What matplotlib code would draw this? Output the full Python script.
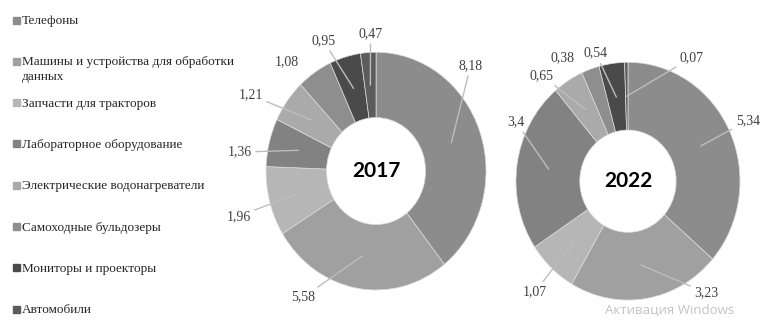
import numpy as np
import matplotlib.pyplot as plt
from matplotlib.patches import Rectangle

# data
categories = ['Телефоны', 'Машины и устройства для обработки\nданных', 'Запчасти для тракторов',
              'Лабораторное оборудование', 'Электрические водонагреватели', 'Самоходные бульдозеры',
              'Мониторы и проекторы', 'Автомобили']
values_2017 = [8.18, 5.58, 1.96, 1.36, 1.21, 1.08, 0.95, 0.47]
values_2022 = [5.34, 3.23, 1.07, 3.4, 0.65, 0.38, 0.54, 0.07]
years = ['2017', '2022']

# style
colors = ['#8c8c8c', '#a0a0a0', '#b6b6b6', '#828282', '#aaaaaa', '#8e8e8e', '#4a4a4a', '#5c5c5c']
label_pos = {
    '2017': [(0.86, 0.89), (-0.66, -1.06), (-1.25, -0.38), (-1.24, 0.16),
             (-1.14, 0.64), (-0.81, 0.92), (-0.48, 1.10), (-0.05, 1.16)],
    '2022': [(1.07, 0.51), (0.70, -0.94), (-0.83, -0.93), (-1.0, 0.50),
             (-0.77, 0.89), (-0.58, 1.04), (-0.29, 1.08), (0.57, 1.04)],
}
no_leader = {'2017': [5], '2022': [5]}
hole = {'2017': 0.45, '2022': 0.43}
ax_rect = {'2017': [0.2976, -0.002, 0.3653, 0.951], '2022': [0.616, -0.033, 0.372, 0.951]}

W, H = 783, 325
fig = plt.figure(figsize=(W / 100, H / 100), dpi=100)

serif = 'Liberation Serif'

for year, vals in zip(years, [values_2017, values_2022]):
    ax = fig.add_axes(ax_rect[year])
    wedges, _ = ax.pie(vals, colors=colors, startangle=90, counterclock=False, radius=1,
                       wedgeprops=dict(width=1 - hole[year], edgecolor='#dcdcdc', linewidth=0.5))
    ax.set_aspect('auto')
    ax.set_xlim(-1.3, 1.3)
    ax.set_ylim(-1.3, 1.3)
    ax.axis('off')
    rmid = (1 + hole[year]) / 2
    for i, (w, v) in enumerate(zip(wedges, vals)):
        ang = np.deg2rad((w.theta1 + w.theta2) / 2)
        pt = (rmid * np.cos(ang), rmid * np.sin(ang))
        txt = str(v).replace('.', ',')
        arrow = None if i in no_leader[year] else dict(arrowstyle='-', color='#bdbdbd', lw=1.0,
                                                        shrinkA=1, shrinkB=0)
        ax.annotate(txt, xy=pt, xytext=label_pos[year][i], ha='center', va='center',
                    fontsize=10, family=serif, color='#404040', arrowprops=arrow)
    ax.text(0, 0, year, ha='center', va='center', fontsize=15, fontweight='bold',
            family='Lato', color='black')

# legend on the left
for i, (cat, c) in enumerate(zip(categories, colors)):
    yp = 20 + i * 41.3
    fig.add_artist(Rectangle((13 / W, 1 - (yp + 3.5) / H), 7 / W, 7 / H, color=c,
                             transform=fig.transFigure))
    fig.text(21.5 / W, 1 - (yp - 5) / H, cat, ha='left', va='top', fontsize=9.5,
             family=serif, color='#262626', linespacing=1.35)

# watermark
fig.text(670 / W, 1 - 310 / H, 'Активация Windows', ha='center', va='center',
         fontsize=9.5, family='Open Sans', color='#c4c4c4')

fig.savefig('out.png', dpi=100)
